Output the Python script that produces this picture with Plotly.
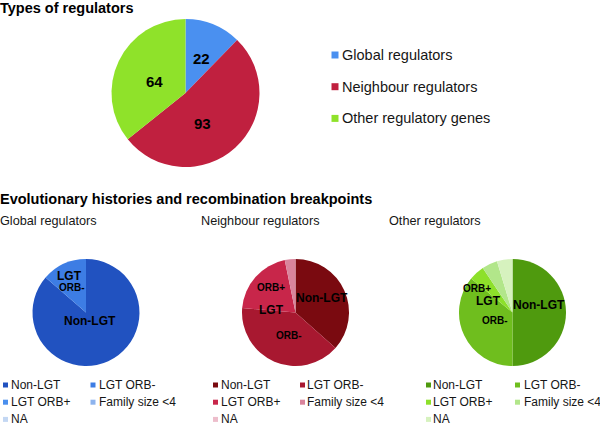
import plotly.graph_objects as go

W, H = 600, 425

# ---------------- data ----------------
type_labels = ["Global regulators", "Neighbour regulators", "Other regulatory genes"]
type_values = [22, 93, 64]
type_colors = ["#4A90F0", "#C0203F", "#8FE22A"]

hist_labels = ["Non-LGT", "LGT ORB-", "LGT ORB+", "Family size <4", "NA"]
global_values = [19, 3, 0, 0, 0]
neighbour_values = [34, 37, 19, 3, 0]
other_values = [32, 23, 3, 3, 3]

global_colors = ["#2152C0", "#3D7DE4", "#4A8FEE", "#8DB3EE", "#C3D7F3"]
neighbour_colors = ["#7A0A10", "#A81830", "#C8264A", "#D9849C", "#EDBDCB"]
other_colors = ["#4F9A0E", "#6FBE1E", "#8DE02A", "#B2E68A", "#D6F2BE"]

panel_titles = ["Global regulators", "Neighbour regulators", "Other regulators"]

FONT = "Liberation Sans, Arial, sans-serif"
TXT = "#161616"


def px(x):
    return x / W


def py(y):
    return 1 - y / H


def dom(cx, cy, r):
    return dict(x=[px(cx - r), px(cx + r)], y=[py(cy + r), py(cy - r)])


fig = go.Figure()

# top pie
fig.add_trace(go.Pie(
    labels=type_labels, values=type_values, sort=False, direction="clockwise",
    rotation=0, marker=dict(colors=type_colors, line=dict(width=0)),
    textinfo="none", domain=dom(185.5, 93, 74), showlegend=False,
    hoverinfo="label+value",
))

panels = [
    (global_values, global_colors, (86, 312.5, 53.5)),
    (neighbour_values, neighbour_colors, (295.5, 312.5, 53.5)),
    (other_values, other_colors, (512.5, 312.5, 53.5)),
]
for vals, cols, (cx, cy, r) in panels:
    fig.add_trace(go.Pie(
        labels=hist_labels, values=vals, sort=False, direction="clockwise",
        rotation=0, marker=dict(colors=cols, line=dict(width=0)),
        textinfo="none", domain=dom(cx, cy, r), showlegend=False,
        hoverinfo="label+value",
    ))

annotations = []
shapes = []


def text(x, y, s, size, bold=False, anchor="left", color=TXT):
    annotations.append(dict(
        x=px(x), y=py(y), xref="paper", yref="paper", text=s, showarrow=False,
        xanchor=anchor, yanchor="middle", borderpad=0, borderwidth=0,
        font=dict(family=FONT, size=size, color=color,
                  weight="bold" if bold else "normal"),
    ))


def square(x, y, s, color):
    shapes.append(dict(
        type="rect", xref="paper", yref="paper",
        x0=px(x), x1=px(x + s), y0=py(y + s / 2), y1=py(y - s / 2),
        fillcolor=color, line=dict(width=0),
    ))


# titles
text(0, 8, "Types of regulators", 14.5, bold=True, color="black")
text(0, 199, "Evolutionary histories and recombination breakpoints", 14.5, bold=True, color="black")
for t, x in zip(panel_titles, [0, 201, 389]):
    text(x, 221, t, 12.7)

# top pie value labels
for (x, y), v in zip([(201.5, 58.5), (202, 123.5), (154, 82)], type_values):
    text(x, y, str(v), 15, bold=True, anchor="center", color="black")

# top legend
for i, (lab, col) in enumerate(zip(type_labels, type_colors)):
    y = 55 + i * 31.7
    square(331.5, y, 7, col)
    text(342, y, lab, 14.5)

# bottom legends
legend_x = [(3, 11, 90.5, 98.5), (213, 220.5, 300, 307), (426, 433, 515, 523.5)]
for (cols, (mx1, tx1, mx2, tx2)) in zip([global_colors, neighbour_colors, other_colors], legend_x):
    for i, (lab, col) in enumerate(zip(hist_labels, cols)):
        row, c = divmod(i, 2)
        y = 385 + row * 17.2
        mx, tx = (mx1, tx1) if c == 0 else (mx2, tx2)
        square(mx, y, 5, col)
        text(tx, y, lab, 12)

# slice labels (centered)
slice_text = [
    (69.5, 275.5, "LGT", 12), (71.5, 287.5, "ORB-", 10), (90, 321, "Non-LGT", 12),
    (321.5, 298, "Non-LGT", 12), (288.5, 335, "ORB-", 10), (271.5, 310, "LGT", 12), (271, 287.5, "ORB+", 10),
    (538.5, 305, "Non-LGT", 12), (495, 320, "ORB-", 10), (488.5, 301, "LGT", 12), (477.5, 288.5, "ORB+", 10),
]
for x, y, s, size in slice_text:
    text(x, y, s, size, bold=True, anchor="center", color="black")

fig.update_layout(
    width=W, height=H, margin=dict(l=0, r=0, t=0, b=0, pad=0),
    paper_bgcolor="white", plot_bgcolor="white",
    annotations=annotations, shapes=shapes,
    font=dict(family=FONT, color=TXT),
)

fig.write_html(
    "out.html",
    config={"displayModeBar": False},
    post_script="document.body.style.margin='0';document.body.style.overflow='hidden';",
)
